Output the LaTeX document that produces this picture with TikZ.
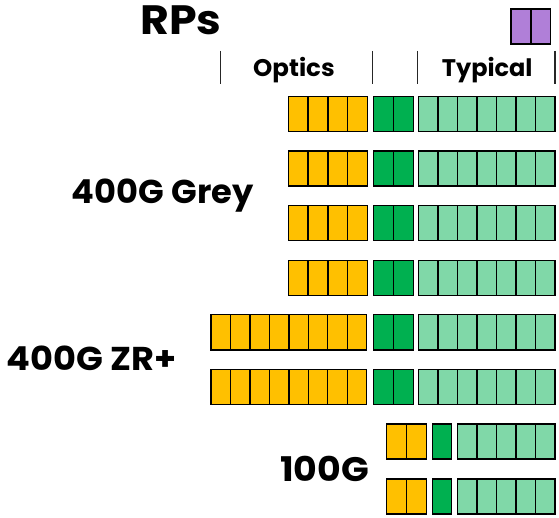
\documentclass[tikz,border=0pt]{standalone}
\usepackage{fontspec}
\setmainfont{Poppins}
\definecolor{cyel}{HTML}{FFC000}
\definecolor{cgrn}{HTML}{00B050}
\definecolor{clgr}{HTML}{80D8A8}
\definecolor{cpur}{HTML}{B07FD8}
\definecolor{csep}{HTML}{262626}
\tikzset{
  cellbox/.style={draw=black, line width=1.4pt, inner sep=0pt, outer sep=0pt, minimum height=35pt, anchor=north west},
  lbl/.style={inner sep=0pt, anchor=base west, font=\bfseries},
  sepline/.style={draw=csep, line width=1.3pt}
}
\newcommand\cellrow[6]{%
  \pgfmathsetmacro\cw{(#3-#2)/#5}%
  \foreach \i in {1,...,#5}{%
    \node[cellbox, fill=#6, minimum width=\cw pt] (#1-\i) at ({#2+(\i-1)*\cw}, #4) {};
  }%
}
\begin{document}
\begin{tikzpicture}[x=1pt, y=-1pt]
\useasboundingbox[fill=white] (0,0) rectangle (559,518);
% title and headers
\node[lbl, font=\bfseries\fontsize{41}{41}\selectfont] (rps) at (140,35) {\scalebox{1.08}[1]{RPs}};
\node[lbl, font=\bfseries\fontsize{24}{24}\selectfont] (optics) at (253,77) {\scalebox{1.02}[1]{Optics}};
\node[lbl, font=\bfseries\fontsize{24}{24}\selectfont] (typical) at (441.7,77) {Typical};
\node[lbl, font=\bfseries\fontsize{33}{33}\selectfont] (grey) at (71.7,203.3) {\scalebox{1.02}[1]{400G Grey}};
\node[lbl, font=\bfseries\fontsize{33}{33}\selectfont] (zr) at (6.7,370) {\scalebox{1.066}[1]{400G ZR+}};
\node[lbl, font=\bfseries\fontsize{34}{34}\selectfont] (hund) at (280,481) {\scalebox{1.07}[1]{100G}};
% separators
\foreach \n/\x in {s1/220.7, s2/372.7, s3/417.7, s4/555}{
  \coordinate (\n t) at (\x,51);
  \coordinate (\n b) at (\x,84);
  \draw[sepline] (\n t) -- (\n b);
}
% purple
\cellrow{pur}{511}{550.7}{9}{2}{cpur}
% 400G grey rows
\foreach \r/\y in {1/96.7, 2/151.2, 3/205.8, 4/260.3}{
  \cellrow{g\r y}{288.3}{367.3}{\y}{4}{cyel}
  \cellrow{g\r g}{373.5}{413.3}{\y}{2}{cgrn}
  \cellrow{g\r l}{418.3}{555}{\y}{7}{clgr}
}
% 400G ZR+ rows
\foreach \r/\y in {1/314.8, 2/369.3}{
  \cellrow{z\r y}{211}{366.7}{\y}{8}{cyel}
  \cellrow{z\r g}{373.5}{413.3}{\y}{2}{cgrn}
  \cellrow{z\r l}{418.3}{555}{\y}{7}{clgr}
}
% 100G rows
\foreach \r/\y in {1/424, 2/479}{
  \cellrow{h\r y}{386.7}{426.7}{\y}{2}{cyel}
  \cellrow{h\r g}{432.3}{451.7}{\y}{1}{cgrn}
  \cellrow{h\r l}{457.3}{555}{\y}{5}{clgr}
}
\end{tikzpicture}
\end{document}
